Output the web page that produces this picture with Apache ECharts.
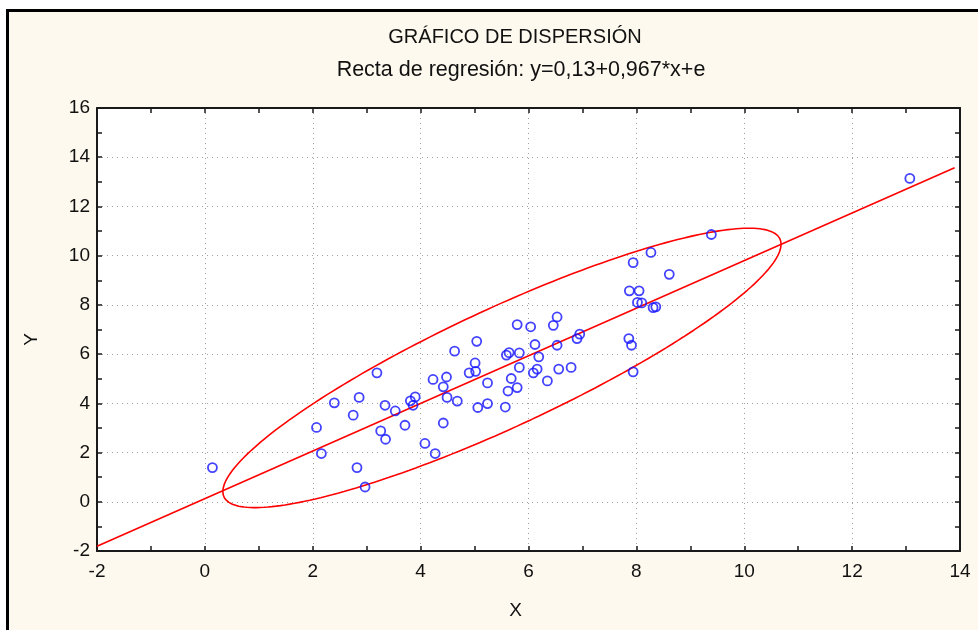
<!DOCTYPE html>
<html>
<head>
<meta charset="utf-8">
<script src="https://cdn.jsdelivr.net/npm/echarts@6/dist/echarts.min.js"></script>
<style>
  html, body { margin: 0; padding: 0; background: #ffffff; }
  #chart { width: 978px; height: 630px; }
</style>
</head>
<body>
<div id="chart"></div>
<script>
// Observed values (X, Y)
const xValues = [
  0.14, 2.07, 2.16, 2.40, 2.75, 2.86, 2.82, 2.97, 3.19, 3.26,
  3.34, 3.35, 3.53, 3.71, 3.81, 3.90, 3.86, 4.08, 4.27, 4.23,
  4.42, 4.42, 4.48, 4.49, 4.63, 4.68,
  5.04, 5.79, 6.04, 6.46, 6.53, 5.01, 4.90, 5.02, 5.24, 5.06,
  5.24, 5.57, 5.59, 5.64, 5.83, 5.68, 5.62, 5.79, 5.83, 6.12,
  6.19, 6.09, 6.16, 6.35, 6.53, 6.56, 6.79, 6.90, 6.95, 7.86,
  7.91, 7.94,
  9.39, 8.27, 7.94, 8.61, 7.87, 8.05, 8.02, 8.10, 8.31, 8.36,
  13.07
];
const yValues = [
  1.39, 3.02, 1.96, 4.02, 3.52, 4.24, 1.39, 0.60, 5.24, 2.88,
  3.92, 2.54, 3.69, 3.11, 4.10, 4.26, 3.92, 2.37, 1.96, 4.97,
  3.20, 4.67, 5.07, 4.24, 6.12, 4.09,
  6.52, 7.20, 7.11, 7.17, 7.51, 5.64, 5.24, 5.30, 4.83, 3.83,
  3.99, 3.85, 5.96, 6.06, 6.05, 5.01, 4.50, 4.64, 5.46, 6.39,
  5.89, 5.24, 5.39, 4.91, 6.36, 5.39, 5.46, 6.63, 6.81, 6.63,
  6.36, 5.28,
  10.86, 10.13, 9.72, 9.24, 8.57, 8.57, 8.10, 8.08, 7.89, 7.92,
  13.14
];

// Regression coefficients: y = a + b*x
const intercept = 0.13;
const slope = 0.967;
const lineXRange = [-2, 13.9];

// Normal ellipse coverage
const ellipseCoverage = 0.95;

// Axis ranges
const axisMin = { x: -2, y: -2 };
const axisMax = { x: 14, y: 16 };
const tickStep = 2;

const points = xValues.map((x, i) => [x, yValues[i]]);

// Mean / covariance of the sample for the confidence ellipse
function ellipseFromData(xs, ys, p, steps) {
  const n = xs.length;
  const mx = xs.reduce((s, v) => s + v, 0) / n;
  const my = ys.reduce((s, v) => s + v, 0) / n;
  let sxx = 0, syy = 0, sxy = 0;
  for (let i = 0; i < n; i++) {
    const dx = xs[i] - mx, dy = ys[i] - my;
    sxx += dx * dx; syy += dy * dy; sxy += dx * dy;
  }
  sxx /= (n - 1); syy /= (n - 1); sxy /= (n - 1);
  const k = Math.sqrt(-2 * Math.log(1 - p));
  // Cholesky factor of covariance
  const l11 = Math.sqrt(sxx);
  const l21 = sxy / l11;
  const l22 = Math.sqrt(syy - l21 * l21);
  const out = [];
  for (let i = 0; i <= steps; i++) {
    const t = (i / steps) * Math.PI * 2;
    const u = Math.cos(t), v = Math.sin(t);
    out.push([mx + k * l11 * u, my + k * (l21 * u + l22 * v)]);
  }
  return out;
}

const ellipsePts = ellipseFromData(xValues, yValues, ellipseCoverage, 240);
const regressionPts = lineXRange.map(x => [x, intercept + slope * x]);

const FONT = "'Liberation Sans', Arial, sans-serif";
const AXIS_COLOR = '#1a1a1a';

function tickAxis(extra) {
  return Object.assign({
    type: 'value',
    interval: tickStep,
    axisLine: { show: true, onZero: false, lineStyle: { color: AXIS_COLOR, width: 2 } },
    axisTick: { show: true, inside: true, length: 5, lineStyle: { color: AXIS_COLOR, width: 1.5 } },
    minorTick: { show: true, splitNumber: 2, length: 5, lineStyle: { color: AXIS_COLOR, width: 1.5 } },
    splitLine: { show: false },
    axisLabel: { show: false }
  }, extra);
}

const chart = echarts.init(document.getElementById('chart'), null, { renderer: 'canvas' });

chart.setOption({
  backgroundColor: '#ffffff',
  animation: false,
  graphic: [
    {
      type: 'rect',
      z: -10,
      shape: { x: 7.5, y: 10.5, width: 990, height: 640 },
      style: { fill: '#fdf9ee', stroke: '#000000', lineWidth: 3 }
    },
    {
      type: 'text',
      style: {
        x: 515, y: 37, text: 'GRÁFICO DE DISPERSIÓN',
        textAlign: 'center', textVerticalAlign: 'middle',
        font: "20px 'Liberation Sans', Arial, sans-serif", fill: '#111111'
      }
    },
    {
      type: 'text',
      style: {
        x: 521, y: 70, text: 'Recta de regresión: y=0,13+0,967*x+e',
        textAlign: 'center', textVerticalAlign: 'middle',
        font: "21.5px 'Liberation Sans', Arial, sans-serif", fill: '#111111'
      }
    }
  ],
  grid: {
    left: 97, right: 18, top: 108, bottom: 79,
    show: true, backgroundColor: '#ffffff', borderWidth: 0
  },
  xAxis: [
    tickAxis({
      position: 'bottom',
      min: axisMin.x, max: axisMax.x,
      name: 'X', nameLocation: 'middle', nameGap: 50,
      nameTextStyle: { fontFamily: FONT, fontSize: 19, color: '#111', padding: [0, 26, 0, 0] },
      axisLabel: { show: true, margin: 11, fontFamily: FONT, fontSize: 19, color: '#111' },
      splitLine: { show: true, lineStyle: { color: '#a0a0a0', width: 1, type: [1, 4] } }
    }),
    tickAxis({ position: 'top', min: axisMin.x, max: axisMax.x })
  ],
  yAxis: [
    tickAxis({
      position: 'left',
      min: axisMin.y, max: axisMax.y,
      name: 'Y', nameLocation: 'middle', nameGap: 56,
      nameTextStyle: { fontFamily: FONT, fontSize: 19, color: '#111', padding: [0, 20, 0, 0] },
      axisLabel: { show: true, margin: 7, fontFamily: FONT, fontSize: 19, color: '#111' },
      splitLine: { show: true, lineStyle: { color: '#a0a0a0', width: 1, type: [1, 4] } }
    }),
    tickAxis({ position: 'right', min: axisMin.y, max: axisMax.y })
  ],
  series: [
    {
      name: 'Elipse',
      type: 'line',
      data: ellipsePts,
      showSymbol: false,
      smooth: false,
      silent: true,
      clip: true,
      lineStyle: { color: '#ff0000', width: 1.6 },
      z: 2
    },
    {
      name: 'Recta de regresión',
      type: 'line',
      data: regressionPts,
      showSymbol: false,
      silent: true,
      lineStyle: { color: '#ff0000', width: 1.6 },
      z: 2
    },
    {
      name: 'Datos',
      type: 'scatter',
      data: points,
      symbol: 'circle',
      symbolSize: 9,
      itemStyle: { color: 'rgba(0,0,0,0)', borderColor: '#1414ff', borderWidth: 1.8 },
      z: 3
    }
  ]
});
</script>
</body>
</html>
